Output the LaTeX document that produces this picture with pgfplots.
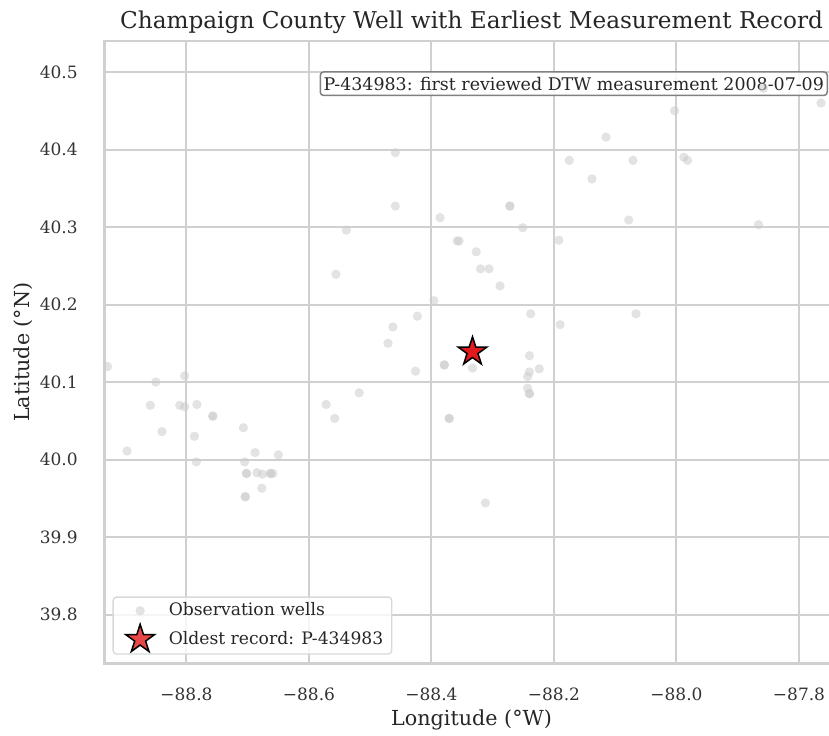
\documentclass[border=0pt]{standalone}
\usepackage{fontspec}
\setmainfont{DejaVu Serif}
\usepackage{pgfplots}
\pgfplotsset{compat=1.18}
\usetikzlibrary{calc}
\definecolor{gridgray}{HTML}{D0D0D0}
\definecolor{starred}{HTML}{E31A1C}

% filled five-pointed star, like the '*' marker of matplotlib
\pgfdeclareplotmark{fstar}{%
  \pgfpathmoveto{\pgfpointpolar{90}{\pgfplotmarksize}}%
  \pgfpathlineto{\pgfpointpolar{126}{0.382\pgfplotmarksize}}%
  \pgfpathlineto{\pgfpointpolar{162}{\pgfplotmarksize}}%
  \pgfpathlineto{\pgfpointpolar{198}{0.382\pgfplotmarksize}}%
  \pgfpathlineto{\pgfpointpolar{234}{\pgfplotmarksize}}%
  \pgfpathlineto{\pgfpointpolar{270}{0.382\pgfplotmarksize}}%
  \pgfpathlineto{\pgfpointpolar{306}{\pgfplotmarksize}}%
  \pgfpathlineto{\pgfpointpolar{342}{0.382\pgfplotmarksize}}%
  \pgfpathlineto{\pgfpointpolar{18}{\pgfplotmarksize}}%
  \pgfpathlineto{\pgfpointpolar{54}{0.382\pgfplotmarksize}}%
  \pgfpathclose
  \pgfusepathqfillstroke}

% legend image: marker set in from the edge, with room before the text
\pgfplotsset{widelegend/.style={legend image code/.code={%
  \path (0cm,0cm) (0.97cm,0cm);
  \draw[mark repeat=2, mark phase=2, ##1]
    plot coordinates {(0.13cm,0cm) (0.45cm,0cm) (0.77cm,0cm)};}}}

% observation wells (longitude, latitude)
\pgfplotstableread{
lon lat
-88.459 40.396
-88.459 40.327
-88.386 40.312
-88.358 40.282
-88.355 40.282
-88.539 40.296
-88.556 40.239
-88.396 40.205
-88.423 40.185
-88.463 40.171
-88.471 40.150
-87.764 40.460
-87.858 40.479
-88.003 40.450
-88.115 40.416
-88.175 40.386
-88.071 40.386
-87.988 40.390
-87.982 40.386
-88.138 40.362
-88.272 40.327
-88.272 40.327
-88.251 40.299
-88.078 40.309
-87.866 40.303
-88.327 40.268
-88.320 40.246
-88.306 40.246
-88.288 40.224
-88.192 40.283
-88.238 40.188
-88.066 40.188
-88.190 40.174
-88.379 40.122
-88.379 40.122
-88.333 40.118
-88.240 40.134
-88.224 40.117
-88.240 40.113
-88.243 40.107
-88.243 40.092
-88.240 40.085
-88.240 40.085
-88.371 40.053
-88.371 40.053
-88.312 39.944
-88.929 40.120
-88.850 40.100
-88.803 40.108
-88.859 40.070
-88.811 40.070
-88.803 40.068
-88.783 40.071
-88.757 40.056
-88.757 40.056
-88.840 40.036
-88.787 40.030
-88.897 40.011
-88.784 39.997
-88.707 40.041
-88.688 40.009
-88.650 40.006
-88.705 39.997
-88.702 39.982
-88.702 39.982
-88.685 39.983
-88.676 39.981
-88.663 39.982
-88.663 39.982
-88.659 39.982
-88.677 39.963
-88.704 39.952
-88.704 39.952
-88.572 40.071
-88.558 40.053
-88.518 40.086
-88.426 40.114
}\wells

\begin{document}
\begin{tikzpicture}
\begin{axis}[
    width=440.4pt, height=373.2pt,
    scale only axis,
    xmin=-88.934, xmax=-87.735,
    ymin=39.737, ymax=40.540,
    xtick={-88.8,-88.6,-88.4,-88.2,-88.0,-87.8},
    xticklabels={−88.8,−88.6,−88.4,−88.2,−88.0,−87.8},
    ytick={39.8,39.9,40.0,40.1,40.2,40.3,40.4,40.5},
    yticklabels={39.8,39.9,40.0,40.1,40.2,40.3,40.4,40.5},
    major tick length=0pt,
    tick label style={font=\fontsize{10.2}{12}\selectfont, text=black!80},
    xticklabel style={yshift=-11.3pt},
    yticklabel style={xshift=-12.5pt},
    grid=major,
    major grid style={gridgray, line width=1.2pt},
    axis line style={gridgray, line width=1.5pt},
    xlabel={Longitude (°W)},
    ylabel={Latitude (°N)},
    label style={font=\fontsize{12.4}{14}\selectfont, text=black!85},
    xlabel style={yshift=1.6pt},
    ylabel style={yshift=-2.4pt},
    title={Champaign County Well with Earliest Measurement Record},
    title style={font=\fontsize{13.9}{16}\selectfont, text=black!85,
                 at={(0.5,1)}, anchor=base, yshift=1.2pt},
    legend style={at={(0.011,0.014)}, anchor=south west,
                  draw=black!15, line width=0.8pt, rounded corners=2pt,
                  fill=white, fill opacity=0.8, text opacity=1,
                  font=\fontsize{10.3}{12.4}\selectfont, text=black!85,
                  inner xsep=3pt, inner ysep=1.5pt, row sep=1.5pt},
    legend cell align=left,
    clip=false,
  ]
  \addplot[only marks, mark=*, mark size=2.8pt,
           mark options={fill=black!20, draw opacity=0, fill opacity=0.55},
           widelegend]
    table[x=lon, y=lat] {\wells};
  \addlegendentry{Observation wells}

  \addplot[only marks, mark=fstar, mark size=9pt,
           mark options={draw=black, fill=starred, line width=0.9pt, line join=miter},
           widelegend]
    coordinates {(-88.333,40.139)};
  \addlegendentry{Oldest record: P-434983}

  \node[anchor=north east, draw=black!50, line width=0.9pt, rounded corners=2pt,
        fill=white, fill opacity=0.85, text opacity=1,
        font=\fontsize{10.45}{12}\selectfont, text=black!85,
        inner xsep=2pt, inner ysep=3pt]
    at (axis cs:-87.7526,40.501) {P-434983: first reviewed DTW measurement 2008-07-09};

  \coordinate (cropR) at (axis cs:-87.751,40.0);
\end{axis}
\coordinate (SW) at ($(current bounding box.south west)+(-4.7pt,0)$);
\coordinate (NE) at ($(current bounding box.north east)+(0,3.5pt)$);
\pgfresetboundingbox
\useasboundingbox (SW) rectangle (NE -| cropR);
\end{tikzpicture}
\end{document}
